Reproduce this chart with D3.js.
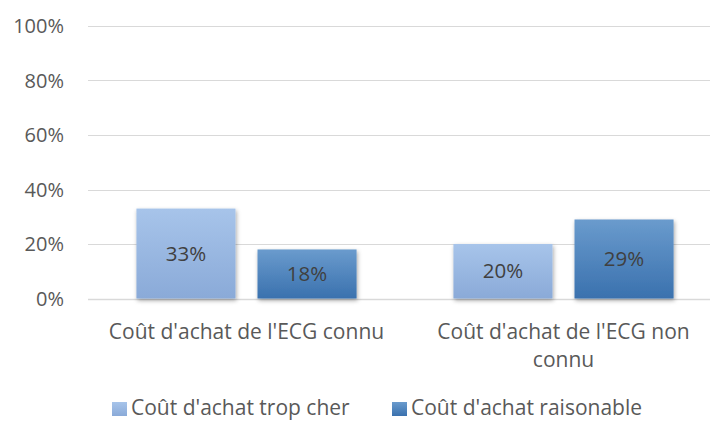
<!DOCTYPE html>
<html>
<head>
<meta charset="utf-8">
<script src="https://cdn.jsdelivr.net/npm/d3@7"></script>
<style>
  body { margin: 0; background: #fff; }
  svg { display: block; font-family: "Open Sans", sans-serif; }
</style>
</head>
<body>
<svg id="main" width="710" height="421"></svg>
<script>
const categories = ["Coût d'achat de l'ECG connu", "Coût d'achat de l'ECG non connu"];
const seriesNames = ["Coût d'achat trop cher", "Coût d'achat raisonable"];
const tropCher = [33, 20];
const raisonable = [18, 29];
const yTicks = [0, 20, 40, 60, 80, 100];

const seriesValues = [tropCher, raisonable];
const colors = [["#a7c4ea", "#8aaad8"], ["#6a9bcd", "#3a71ae"]];

const svg = d3.select('#main');
const defs = svg.append('defs');

colors.forEach((c, i) => {
    const g = defs.append('linearGradient')
        .attr('id', 'grad' + i)
        .attr('x1', 0).attr('y1', 0).attr('x2', 0).attr('y2', 1);
    g.append('stop').attr('offset', '0%').attr('stop-color', c[0]);
    g.append('stop').attr('offset', '100%').attr('stop-color', c[1]);
});

defs.append('filter')
    .attr('id', 'shadow')
    .attr('x', '-20%').attr('y', '-20%').attr('width', '140%').attr('height', '140%')
    .append('feDropShadow')
    .attr('dx', 1).attr('dy', 2)
    .attr('stdDeviation', 2)
    .attr('flood-color', '#000')
    .attr('flood-opacity', 0.35);

const x0 = d3.scaleBand()
    .domain(categories)
    .range([88, 722]);

const x1 = d3.scaleBand()
    .domain(d3.range(seriesNames.length))
    .range([0, x0.bandwidth()])
    .paddingInner(22 / 121)
    .paddingOuter(0.4);

const y = d3.scaleLinear()
    .domain([0, 100])
    .range([298.5, 26]);

// gridlines + y labels
const yAxis = svg.append('g');
yAxis.selectAll('line')
    .data(yTicks)
    .enter()
    .append('line')
    .attr('x1', 88)
    .attr('x2', 722)
    .attr('y1', d => Math.round(y(d)) + 0.5)
    .attr('y2', d => Math.round(y(d)) + 0.5)
    .attr('stroke', '#d9d9d9')
    .attr('stroke-width', d => d === 0 ? 1.5 : 1.2);

yAxis.selectAll('text')
    .data(yTicks)
    .enter()
    .append('text')
    .attr('x', 64)
    .attr('y', d => y(d))
    .attr('dy', '0.35em')
    .attr('text-anchor', 'end')
    .attr('fill', '#595959')
    .style('font-size', '20px')
    .text(d => d + '%');

// bars
const groups = svg.append('g')
    .selectAll('g')
    .data(categories)
    .enter()
    .append('g')
    .attr('transform', d => `translate(${x0(d)},0)`);

groups.selectAll('rect')
    .data((d, ci) => seriesValues.map((s, si) => ({ si: si, v: s[ci] })))
    .enter()
    .append('rect')
    .attr('x', d => x1(d.si))
    .attr('y', d => y(d.v))
    .attr('width', x1.bandwidth())
    .attr('height', d => y(0) - y(d.v))
    .attr('fill', d => `url(#grad${d.si})`)
    .attr('filter', 'url(#shadow)');

groups.selectAll('text')
    .data((d, ci) => seriesValues.map((s, si) => ({ si: si, v: s[ci] })))
    .enter()
    .append('text')
    .attr('x', d => x1(d.si) + x1.bandwidth() / 2)
    .attr('y', d => (y(d.v) + y(0)) / 2)
    .attr('dy', '0.35em')
    .attr('text-anchor', 'middle')
    .attr('fill', '#404040')
    .style('font-size', '20.5px')
    .text(d => d.v + '%');

// category labels with wrapping
svg.append('g')
    .selectAll('text')
    .data(categories)
    .enter()
    .append('text')
    .attr('x', d => x0(d) + x0.bandwidth() / 2)
    .attr('y', 332)
    .attr('text-anchor', 'middle')
    .attr('fill', '#595959')
    .style('font-size', '21px')
    .each(function (d) { wrap(d3.select(this), d, 300); });

function wrap(text, str, width) {
    const words = str.split(' ');
    let line = [];
    const xPos = text.attr('x');
    let tspan = text.append('tspan').attr('x', xPos).attr('dy', '0.35em');
    words.forEach(w => {
        line.push(w);
        tspan.text(line.join(' '));
        if (tspan.node().getComputedTextLength() > width && line.length > 1) {
            line.pop();
            tspan.text(line.join(' '));
            line = [w];
            tspan = text.append('tspan').attr('x', xPos).attr('dy', '28px').text(w);
        }
    });
}

// legend
const legendX = [112, 392];
const legend = svg.append('g')
    .selectAll('g')
    .data(seriesNames)
    .enter()
    .append('g')
    .attr('transform', (d, i) => `translate(${legendX[i]},408)`);

legend.append('rect')
    .attr('x', 0)
    .attr('y', -6)
    .attr('width', 15)
    .attr('height', 14)
    .attr('fill', (d, i) => `url(#grad${i})`);

legend.append('text')
    .attr('x', 19)
    .attr('y', 0)
    .attr('dy', '0.35em')
    .attr('fill', '#595959')
    .style('font-size', '21px')
    .text(d => d);
</script>
</body>
</html>
